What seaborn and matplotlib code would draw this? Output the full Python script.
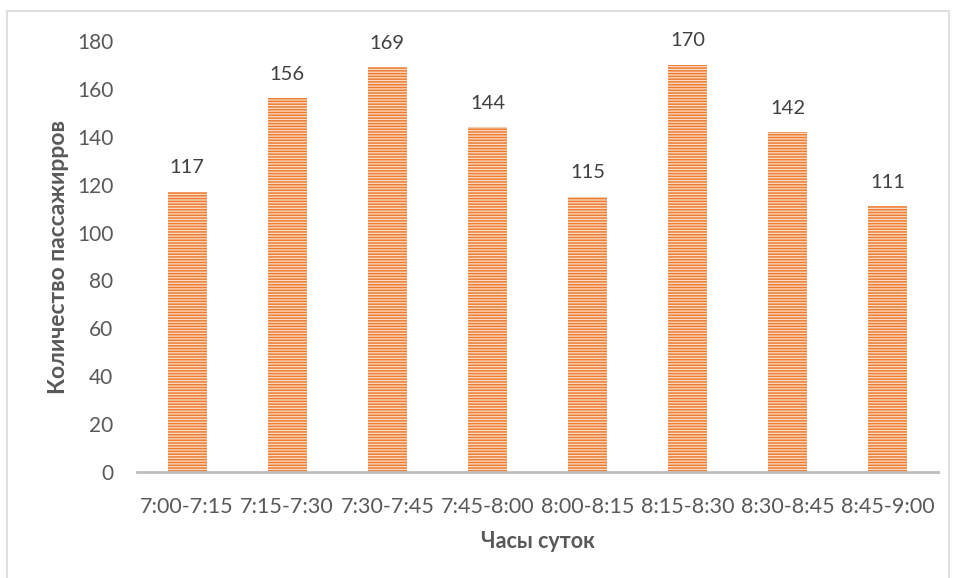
import matplotlib
matplotlib.use("Agg")
import matplotlib.pyplot as plt
import seaborn as sns
import pandas as pd
from matplotlib.patches import Rectangle

intervals = ["7:00-7:15", "7:15-7:30", "7:30-7:45", "7:45-8:00",
             "8:00-8:15", "8:15-8:30", "8:30-8:45", "8:45-9:00"]
passengers = [117, 156, 169, 144, 115, 170, 142, 111]
y_ticks = [0, 20, 40, 60, 80, 100, 120, 140, 160, 180]

sns.set_theme(style="white")
plt.rcParams["font.family"] = ["Lato", "DejaVu Sans"]
plt.rcParams["hatch.linewidth"] = 1.1

W, H = 956, 578
fig = plt.figure(figsize=(W / 100, H / 100), dpi=100)
ax = fig.add_axes([137 / W, (H - 472) / H, (938 - 137) / W, (472 - 41) / H])

df = pd.DataFrame({"interval": intervals, "count": passengers})
sns.barplot(data=df, x="interval", y="count", color="#FBDCC6",
            width=0.39, ax=ax, saturation=1)

for p in ax.patches:
    p.set_hatch("------")
    p.set_edgecolor("#ED7D31")
    p.set_linewidth(0)

text_color = "#595959"
for i, v in enumerate(passengers):
    ax.text(i, v + 10, str(v), ha="center", va="center",
            fontsize=14.5, color="#404040")

ax.set_ylim(0, 180)
ax.set_yticks(y_ticks)
ax.tick_params(axis="y", length=0, pad=17, labelsize=15, labelcolor=text_color)
ax.tick_params(axis="x", length=0, pad=18, labelsize=15.5, labelcolor=text_color)

for side in ["top", "right", "left"]:
    ax.spines[side].set_visible(False)
ax.spines["bottom"].set_color("#BFBFBF")
ax.spines["bottom"].set_linewidth(2)

ax.set_xlabel("Часы суток", fontsize=15.5, fontweight="bold",
              color=text_color, labelpad=10)
ax.set_ylabel("Количество пассажирров", fontsize=16.5, fontweight="bold",
              color=text_color, labelpad=6)

# chart frame
fig.patches.append(Rectangle((7 / W, -0.01), (949 - 7) / W, (H - 11) / H + 0.01,
                             transform=fig.transFigure, fill=False,
                             edgecolor="#D9D9D9", linewidth=1.2))

fig.savefig("out.png", dpi=100)
